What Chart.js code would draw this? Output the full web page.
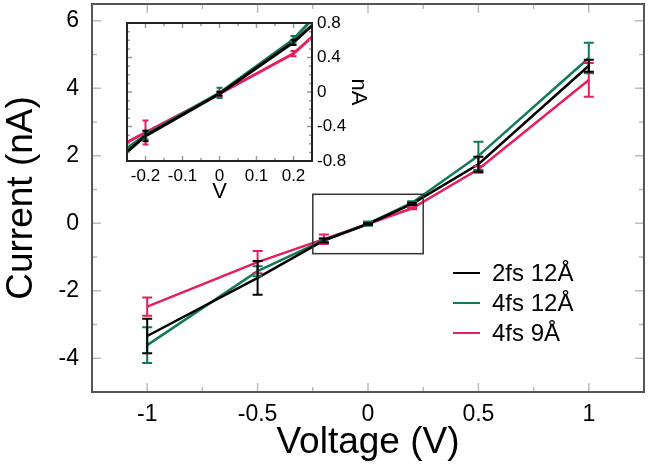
<!DOCTYPE html>
<html>
<head>
<meta charset="utf-8">
<script src="https://cdn.jsdelivr.net/npm/chart.js@4.4.1/dist/chart.umd.min.js"></script>
<style>
  html, body { margin: 0; padding: 0; background: #fff; }
  #wrap { position: relative; width: 650px; height: 469px; }
  #mainChart { position: absolute; left: 0; top: 0; }
  #insetChart { position: absolute; left: 100px; top: 10px; }
</style>
</head>
<body>
<div id="wrap">
  <canvas id="mainChart" width="650" height="469"></canvas>
  <canvas id="insetChart" width="280" height="195"></canvas>
</div>
<script>
// values
const voltages = [-1, -0.5, -0.2, 0, 0.2, 0.5, 1];
const current2fs12 = [-3.34, -1.62, -0.51, -0.02, 0.576, 1.75, 4.67];
const error2fs12 = [0.51, 0.5, 0.06, 0.02, 0.03, 0.22, 0.18];
const current4fs12 = [-3.61, -1.42, -0.5, -0.01, 0.61, 2.0, 4.9];
const error4fs12 = [0.53, 0.15, 0.05, 0.06, 0.04, 0.42, 0.45];
const current4fs9 = [-2.47, -1.15, -0.47, -0.02, 0.445, 1.6, 4.25];
const error4fs9 = [0.27, 0.33, 0.14, 0.03, 0.03, 0.1, 0.5];

const seriesLabels = ["2fs 12Å", "4fs 12Å", "4fs 9Å"];
const seriesColors = ["#000000", "#127a5b", "#e3205c"];

const xTickLabels = [-1, -0.5, 0, 0.5, 1];
const yTickLabels = [-4, -2, 0, 2, 4, 6];
const insetXTickLabels = [-0.2, -0.1, 0, 0.1, 0.2];
const insetYTickLabels = [-0.8, -0.4, 0, 0.4, 0.8];

// region of the main plot shown in the inset (data units)
const zoomX = [-0.25, 0.25];
const zoomY = [-0.9, 0.86];

const FONT = "'Liberation Sans', Arial, Helvetica, sans-serif";

function labelFor(value, list) {
  const hit = list.find((v) => Math.abs(v - value) < 1e-6);
  return hit === undefined ? "" : String(hit);
}

function makeDatasets(width) {
  const currents = [current2fs12, current4fs12, current4fs9];
  const errors = [error2fs12, error4fs12, error4fs9];
  return seriesLabels.map((label, i) => ({
    label: label,
    data: voltages.map((v, j) => ({ x: v, y: currents[i][j] })),
    errors: errors[i],
    borderColor: seriesColors[i],
    backgroundColor: seriesColors[i],
    borderWidth: width,
    pointRadius: 0,
    tension: 0,
  }));
}

// no extra room for half tick labels at the ends of an axis
function fixWidth(w) {
  return (s) => {
    s.width = w;
    s.paddingTop = 0;
    s.paddingBottom = 0;
  };
}
function fixHeight(h) {
  return (s) => {
    s.height = h;
    s.paddingLeft = 0;
    s.paddingRight = 0;
  };
}

// vertical error bars with caps, clipped to the plot area
const errorBarPlugin = {
  id: "errorBars",
  afterDatasetsDraw(chart, args, opts) {
    const { ctx, chartArea: a, scales } = chart;
    const xs = scales.x;
    const ys = scales.y;
    ctx.save();
    ctx.beginPath();
    ctx.rect(a.left, a.top, a.width, a.height);
    ctx.clip();
    ctx.lineWidth = opts.width;
    for (let i = chart.data.datasets.length - 1; i >= 0; i--) {
      const ds = chart.data.datasets[i];
      ctx.strokeStyle = ds.borderColor;
      ds.data.forEach((p, j) => {
        const px = xs.getPixelForValue(p.x);
        const top = ys.getPixelForValue(p.y + ds.errors[j]);
        const bot = ys.getPixelForValue(p.y - ds.errors[j]);
        ctx.beginPath();
        ctx.moveTo(px, top);
        ctx.lineTo(px, bot);
        ctx.moveTo(px - opts.cap, top);
        ctx.lineTo(px + opts.cap, top);
        ctx.moveTo(px - opts.cap, bot);
        ctx.lineTo(px + opts.cap, bot);
        ctx.stroke();
      });
    }
    ctx.restore();
  },
};

// box around the plot area with inward ticks on all four sides
const framePlugin = {
  id: "frame",
  beforeDraw(chart, args, opts) {
    if (!opts.fill) return;
    const { ctx, chartArea: a } = chart;
    ctx.save();
    ctx.fillStyle = opts.fill;
    ctx.fillRect(a.left, a.top, a.width, a.height);
    ctx.restore();
  },
  afterDraw(chart, args, opts) {
    const { ctx, chartArea: a, scales } = chart;
    const xs = scales.x;
    const ys = scales.y;
    ctx.save();
    ctx.strokeStyle = opts.tickColor;
    ctx.lineWidth = 1.5;
    ctx.beginPath();
    xs.ticks.forEach((t) => {
      const px = xs.getPixelForValue(t.value);
      if (px <= a.left + 1 || px >= a.right - 1) return;
      const len = t.label !== "" ? opts.major : opts.minor;
      ctx.moveTo(px, a.bottom);
      ctx.lineTo(px, a.bottom - len);
      ctx.moveTo(px, a.top);
      ctx.lineTo(px, a.top + len);
    });
    ys.ticks.forEach((t) => {
      const py = ys.getPixelForValue(t.value);
      if (py <= a.top + 1 || py >= a.bottom - 1) return;
      const len = t.label !== "" ? opts.major : opts.minor;
      ctx.moveTo(a.left, py);
      ctx.lineTo(a.left + len, py);
      ctx.moveTo(a.right, py);
      ctx.lineTo(a.right - len, py);
    });
    ctx.stroke();

    if (opts.zoomBox) {
      const x0 = xs.getPixelForValue(zoomX[0]);
      const x1 = xs.getPixelForValue(zoomX[1]);
      const y0 = ys.getPixelForValue(zoomY[1]);
      const y1 = ys.getPixelForValue(zoomY[0]);
      ctx.strokeStyle = "#333";
      ctx.lineWidth = 1.5;
      ctx.strokeRect(x0, y0, x1 - x0, y1 - y0);
    }

    ctx.strokeStyle = opts.color;
    ctx.lineWidth = opts.width;
    ctx.strokeRect(a.left, a.top, a.width, a.height);
    ctx.restore();
  },
};

// legend drawn inside the plot, lower right
const insideLegendPlugin = {
  id: "insideLegend",
  afterDraw(chart, args, opts) {
    const { ctx } = chart;
    ctx.save();
    ctx.font = opts.fontSize + "px " + FONT;
    ctx.textBaseline = "middle";
    ctx.fillStyle = "#000";
    chart.data.datasets.forEach((ds, i) => {
      const y = opts.y + i * opts.spacing;
      ctx.strokeStyle = ds.borderColor;
      ctx.lineWidth = 2;
      ctx.beginPath();
      ctx.moveTo(opts.x, y);
      ctx.lineTo(opts.x + opts.lineLen, y);
      ctx.stroke();
      ctx.fillText(ds.label, opts.x + opts.lineLen + opts.gap, y + 1);
    });
    ctx.restore();
  },
};

Chart.defaults.font.family = FONT;
Chart.defaults.color = "#000";

new Chart(document.getElementById("mainChart"), {
  type: "line",
  data: { datasets: makeDatasets(2.5) },
  plugins: [framePlugin, errorBarPlugin, insideLegendPlugin],
  options: {
    responsive: false,
    animation: false,
    devicePixelRatio: 1,
    layout: { padding: { top: 4, right: 6, left: 0, bottom: 0 } },
    scales: {
      x: {
        type: "linear",
        min: -1.25,
        max: 1.25,
        grid: { display: false, drawTicks: false },
        border: { display: false },
        ticks: {
          stepSize: 0.25,
          includeBounds: false,
          autoSkip: false,
          maxRotation: 0,
          padding: 9,
          font: { size: 23 },
          callback: (v) => labelFor(v, xTickLabels),
        },
        title: {
          display: true,
          text: "Voltage (V)",
          font: { size: 37 },
          padding: { top: 0, bottom: 4 },
        },
        afterFit: fixHeight(77),
      },
      y: {
        type: "linear",
        min: -5,
        max: 6.5,
        grid: { display: false, drawTicks: false },
        border: { display: false },
        ticks: {
          stepSize: 1,
          includeBounds: false,
          autoSkip: false,
          padding: 13,
          font: { size: 23 },
          callback: (v) => labelFor(v, yTickLabels),
        },
        title: {
          display: true,
          text: "Current (nA)",
          font: { size: 37 },
          padding: { top: 0, bottom: 0 },
        },
        afterFit: fixWidth(92),
      },
    },
    plugins: {
      legend: { display: false },
      tooltip: { enabled: false },
      frame: { color: "#555", width: 2, tickColor: "#bbb", major: 9, minor: 5, zoomBox: true },
      errorBars: { width: 2, cap: 5 },
      insideLegend: { x: 453, y: 273, spacing: 30, lineLen: 27, gap: 12, fontSize: 24 },
    },
  },
});

new Chart(document.getElementById("insetChart"), {
  type: "line",
  data: { datasets: makeDatasets(3) },
  plugins: [framePlugin, errorBarPlugin],
  options: {
    responsive: false,
    animation: false,
    devicePixelRatio: 1,
    layout: { padding: { top: 13, right: 0, left: 27, bottom: 0 } },
    scales: {
      x: {
        type: "linear",
        min: -0.25,
        max: 0.25,
        grid: { display: false, drawTicks: false },
        border: { display: false },
        ticks: {
          stepSize: 0.05,
          includeBounds: false,
          autoSkip: false,
          maxRotation: 0,
          padding: 5,
          font: { size: 17 },
          callback: (v) => labelFor(v, insetXTickLabels),
        },
        title: {
          display: true,
          text: "V",
          font: { size: 22 },
          padding: { top: 0, bottom: 0 },
        },
        afterFit: fixHeight(44),
      },
      y: {
        type: "linear",
        position: "right",
        min: -0.8,
        max: 0.8,
        grid: { display: false, drawTicks: false },
        border: { display: false },
        ticks: {
          stepSize: 0.1,
          autoSkip: false,
          padding: 5,
          font: { size: 17 },
          callback: (v) => labelFor(v, insetYTickLabels),
        },
        title: {
          display: true,
          text: "nA",
          font: { size: 22 },
          padding: { top: 9, bottom: 0 },
        },
        afterFit: fixWidth(68),
      },
    },
    plugins: {
      legend: { display: false },
      tooltip: { enabled: false },
      frame: { fill: "#fff", color: "#222", width: 2, tickColor: "#999", major: 5, minor: 3 },
      errorBars: { width: 2, cap: 3 },
    },
  },
});
</script>
</body>
</html>
